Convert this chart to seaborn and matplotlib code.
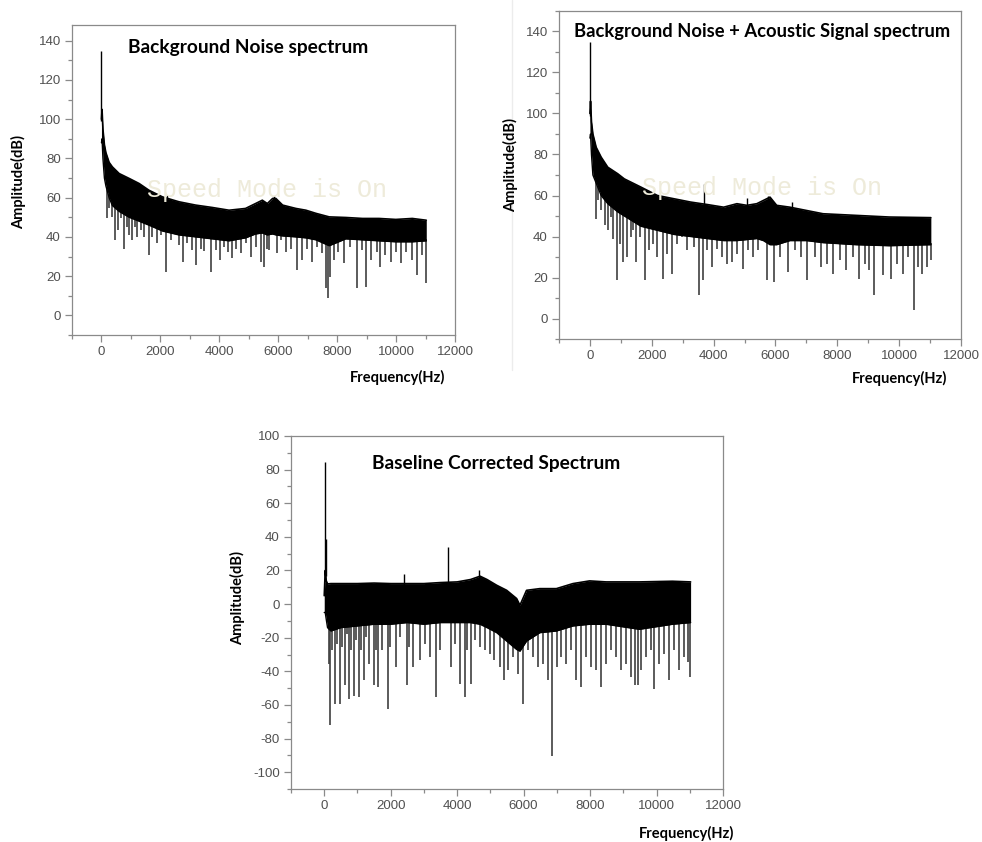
import numpy as np
import matplotlib
matplotlib.use("Agg")
import matplotlib.pyplot as plt
from matplotlib.ticker import MultipleLocator
import seaborn as sns

# ---------------- data ----------------
# Panel 1: Background Noise spectrum
f1_env = [0, 20, 50, 100, 150, 260, 370, 600, 940, 1280, 1610, 2070, 2630, 3200, 3760,
          4330, 4890, 5230, 5460, 5630, 5810, 5920, 6150, 6600, 6940, 7280, 7730, 8290,
          8860, 9420, 9990, 10550, 11025]
top1 = [100, 105, 95, 87, 83, 78, 75.7, 72.3, 69.8, 67.2, 63.8, 60.4, 57.9, 56.2, 55,
        53.6, 54.5, 57, 58.7, 57, 59.6, 59.6, 56.2, 54.5, 53.6, 52, 50.2, 49.9,
        49.4, 49.4, 48.9, 49.4, 48.5]
bot1 = [88, 90, 80, 70, 66, 60, 56, 53, 50, 48, 46, 43, 41, 40, 39,
        38, 39.5, 41.5, 42, 41, 41.5, 41, 40.5, 40, 39.5, 38.5, 35.5, 39,
        38.5, 38, 37.5, 37.5, 38]
spk1_f = [180, 258, 350, 460, 575, 654, 766, 880, 937, 1027,
          1140, 1220, 1332, 1445, 1614, 1727, 1898, 2010, 2203, 2349,
          2519, 2630, 2766, 2915, 3085, 3220, 3366, 3478, 3705, 3875,
          4010, 4156, 4305, 4440, 4553, 4722, 4892, 5061, 5231, 5400,
          5512, 5627, 5695, 5942, 6088, 6258, 6427, 6654, 6800, 6960,
          7139, 7332, 7502, 7637, 7682, 7750, 7898, 8044, 8237, 8428,
          8666, 8834, 8970, 9139, 9366, 9444, 9627, 9817, 9987, 10156,
          10350, 10529, 10722, 10868, 11003]
spk1_lo = [49.4, 54.5, 50, 38.4, 43.5, 49.4, 34, 45, 41, 38.4,
           45, 40, 43.5, 40, 30.7, 40, 36.7, 41, 22.2, 38.4,
           41.8, 35.8, 27.3, 36.7, 33.3, 25.6, 34, 33, 22.2, 33.3,
           28.2, 35, 32.4, 29, 34, 31.6, 36.7, 29.9, 35, 27.3,
           24.8, 34, 33.3, 31.6, 38.4, 32.4, 34, 23, 28.2, 34,
           27.3, 35, 31.6, 13.8, 8.7, 19.7, 28.2, 32.4, 26.5, 35,
           13.8, 33.3, 14.6, 28.2, 32.4, 24.8, 30.7, 27.3, 32.4, 26.5,
           32.4, 28.2, 20.5, 30.7, 16.3]
up1_f = [0, 2230, 5840]
up1_hi = [135, 61.3, 61]

# Panel 2: Background Noise + Acoustic Signal spectrum
f2_env = [0, 20, 50, 96, 203, 364, 578, 900, 1113, 1649, 2184, 2720, 3255, 3790, 4325,
          4754, 5075, 5396, 5610, 5824, 6039, 6467, 7002, 7537, 8608, 9679, 11025]
top2 = [100, 106, 96, 90, 83.5, 78.7, 73.8, 70.6, 68.1, 64.1, 60, 58.4, 56.8, 55.6, 54.3,
        56, 55.2, 56, 57.6, 59.2, 55.2, 54.3, 52.7, 51.1, 50.3, 49.5, 49.2]
bot2 = [88, 90, 80, 70, 66, 60, 56, 52, 50, 45, 43, 41, 40, 39, 38,
        38, 38.5, 39, 38, 36, 36, 38, 38, 37, 36, 35.5, 36]
spk2_f = [192, 267, 374, 482, 588, 675, 760, 888, 974, 1081,
          1189, 1318, 1403, 1489, 1617, 1788, 1906, 2045, 2174, 2356,
          2495, 2655, 2816, 2977, 3137, 3352, 3513, 3652, 3780, 3941,
          4101, 4262, 4422, 4583, 4744, 4960, 5120, 5281, 5428, 5717,
          5962, 6145, 6392, 6627, 6842, 7035, 7270, 7485, 7678, 7860,
          8075, 8290, 8504, 8687, 8880, 9040, 9201, 9469, 9737, 9930,
          10110, 10293, 10464, 10615, 10754, 10915, 11020]
spk2_lo = [48.7, 57.6, 52.7, 45.4, 43, 49.4, 38.9, 18.6, 36.5, 27.5,
           30, 39.7, 43, 27.5, 39.7, 18.6, 33.2, 36.5, 30, 19.5,
           31.6, 21.9, 36.5, 39.7, 33.2, 34.8, 11.3, 18.6, 33.2, 25.1,
           34, 30, 26.8, 27.5, 31.6, 24.3, 33.2, 30, 33.2, 18.6,
           17.8, 30, 22.7, 33.2, 30, 18.6, 30, 25.1, 26.8, 21.9,
           28.4, 23.5, 30, 19.5, 26.8, 23.5, 11.3, 21, 19.5, 26.8,
           21.9, 30, 4, 25.1, 21.9, 25.1, 28.4]
up2_f = [0, 3700, 5075, 5770, 6520]
up2_hi = [135, 65.7, 59, 60, 56.8]

# Panel 3: Baseline Corrected Spectrum
f3_env = [0, 30, 60, 100, 200, 500, 1000, 1500, 2000, 2495, 3000, 3493, 4000, 4400, 4690,
          4900, 5190, 5490, 5790, 5890, 6088, 6487, 6986, 7485, 7984, 8483, 9481, 10479, 11025]
top3 = [5, 20, 14, 12, 12.2, 12.2, 12.2, 12.5, 12.2, 12.2, 12.2, 12.8, 13.2, 14.6, 16.6,
        14.6, 11.2, 8.2, 3.3, -0.7, 8.2, 9.2, 9.2, 12.2, 13.8, 13.2, 13.2, 13.6, 13.2]
bot3 = [-5, -5, -9, -14, -16, -14, -13, -12, -12, -11, -12, -11, -11, -11, -12,
        -14, -17, -22, -27, -28, -22, -17, -16, -13, -12, -12, -15, -12, -11]
spk3_f = [140, 170, 240, 320, 390, 460, 540, 620, 690, 740,
          820, 890, 960, 1040, 1120, 1190, 1260, 1340, 1490, 1560,
          1620, 1740, 1910, 1990, 2090, 2160, 2290, 2490, 2560, 2660,
          2790, 2890, 3040, 3190, 3360, 3490, 3820, 3940, 4090, 4230,
          4310, 4410, 4530, 4680, 4830, 4980, 5110, 5280, 5400, 5540,
          5690, 5840, 5990, 6140, 6290, 6440, 6590, 6740, 6860, 6990,
          7140, 7290, 7440, 7590, 7740, 7890, 8040, 8190, 8340, 8490,
          8640, 8790, 8940, 9090, 9240, 9340, 9440, 9530, 9680, 9830,
          9910, 10080, 10230, 10380, 10530, 10680, 10830, 10960, 11020]
spk3_lo = [-35.5, -72.2, -27.5, -59.3, -23.5, -59.3, -25.6, -48.4, -17.6, -56.3,
           -27.5, -54.4, -21.6, -55.4, -27.5, -45.4, -19.6, -35.5, -48.4, -27.5,
           -49.4, -27.5, -62.3, -25.6, -11.7, -37.5, -19.6, -48.4, -25.6, -37.5,
           -11.7, -33.5, -23.5, -31.5, -55.4, -27.5, -37.5, -23.5, -47.4, -55.4,
           -27.5, -47.4, -21.6, -25.6, -27.5, -29.5, -33.5, -37.5, -45.4, -39.5,
           -31.5, -41.4, -59.3, -27.5, -31.5, -37.5, -35.5, -45.4, -90.1, -37.5,
           -31.5, -35.5, -27.5, -45.4, -49.4, -31.5, -37.5, -39.5, -49.4, -35.5,
           -27.5, -31.5, -39.5, -35.5, -43.4, -48.4, -48.4, -39.5, -31.5, -27.5,
           -50.4, -35.5, -29.5, -45.4, -27.5, -39.5, -31.5, -34.5, -43.4]
up3_f = [20, 40, 2400, 3720, 4650]
up3_hi = [84.7, 39, 18, 34.1, 20]

titles = ["Background Noise spectrum",
          "Background Noise + Acoustic Signal spectrum",
          "Baseline Corrected Spectrum"]
xlabel = "Frequency(Hz)"
ylabel = "Amplitude(dB)"
watermark = "Speed Mode is On"

# ---------------- figure ----------------
sns.set_style("ticks")
plt.rcParams['font.family'] = ['Liberation Sans', 'DejaVu Sans']
plt.rcParams['axes.unicode_minus'] = False

W, H = 982, 842
fig = plt.figure(figsize=(W / 100, H / 100), dpi=100)


def add_ax(l, t, r, b):
    return fig.add_axes([l / W, 1 - b / H, (r - l) / W, (b - t) / H])


def ftext(x, y, s, **kw):
    return fig.text(x / W, 1 - y / H, s, **kw)


FRAME = '#8a8a8a'
TICKLAB = '#505050'
SPIKE = '#404040'


def draw_panel(ax, f_env, top, bot, sf, slo, uf, uhi, ylim, ymajor, yminor):
    ax.fill_between(f_env, bot, top, color='black', lw=0, zorder=3)
    sns.lineplot(x=f_env, y=top, ax=ax, color='black', lw=1.2, zorder=4,
                 estimator=None, sort=False)
    sns.lineplot(x=f_env, y=bot, ax=ax, color='black', lw=1.0, zorder=4,
                 estimator=None, sort=False)
    base = np.interp(sf, f_env, bot) + 1.0
    ax.vlines(sf, slo, base, color=SPIKE, lw=1.2, zorder=2)
    ubase = np.interp(uf, f_env, top) - 1.0
    ax.vlines(uf, ubase, uhi, color='black', lw=1.0, zorder=4)
    ax.set_xlim(-1000, 12000)
    ax.set_ylim(*ylim)
    ax.xaxis.set_major_locator(MultipleLocator(2000))
    ax.xaxis.set_minor_locator(MultipleLocator(1000))
    ax.yaxis.set_major_locator(MultipleLocator(ymajor))
    ax.yaxis.set_minor_locator(MultipleLocator(yminor))
    ax.tick_params(which='both', direction='out', color=FRAME, width=0.9,
                   top=False, right=False)
    ax.tick_params(which='major', length=5, labelsize=9.5, labelcolor=TICKLAB, pad=3)
    ax.tick_params(which='minor', length=3)
    for s in ax.spines.values():
        s.set_visible(True)
        s.set_color(FRAME)
        s.set_linewidth(0.9)
    ax.set_xlabel('')
    ax.set_ylabel('')
    ax.grid(False)


ax1 = add_ax(72, 25, 455, 335)
draw_panel(ax1, f1_env, top1, bot1, spk1_f, spk1_lo, up1_f, up1_hi,
           (-10, 148), 20, 10)
ax2 = add_ax(559, 11, 961, 339)
draw_panel(ax2, f2_env, top2, bot2, spk2_f, spk2_lo, up2_f, up2_hi,
           (-10, 150), 20, 10)
ax3 = add_ax(291, 436, 723, 789)
draw_panel(ax3, f3_env, top3, bot3, spk3_f, spk3_lo, up3_f, up3_hi,
           (-110, 100), 20, 10)

# watermarks
wm_kw = dict(family='Liberation Mono', fontsize=18, color='#eeebda',
             ha='center', va='center', zorder=1)
ftext(267, 190, watermark, **wm_kw)
ftext(762, 188, watermark, **wm_kw)

# titles
t_kw = dict(family=['Lato', 'DejaVu Sans'], fontweight='bold',
            color='black', ha='left', va='center')
ftext(128, 47, titles[0], fontsize=13.8, **t_kw)
ftext(574, 31, titles[1], fontsize=13.2, **t_kw)
ftext(372, 463, titles[2], fontsize=13.8, **t_kw)

# axis labels
l_kw = dict(family=['Lato', 'DejaVu Sans'], fontweight='bold', fontsize=10.5,
            color='black', ha='center', va='center')
ftext(19, 182, ylabel, rotation=90, **l_kw)
ftext(511, 165, ylabel, rotation=90, **l_kw)
ftext(238, 598, ylabel, rotation=90, **l_kw)
ftext(398, 377, xlabel, **l_kw)
ftext(900, 378, xlabel, **l_kw)
ftext(687, 833, xlabel, **l_kw)

# faint frame line of the second picture
fig.add_artist(plt.Line2D([512 / W, 512 / W], [1 - 370 / H, 1.0],
                          transform=fig.transFigure, color='#ececec', lw=1))

fig.savefig('out.png', dpi=100)
